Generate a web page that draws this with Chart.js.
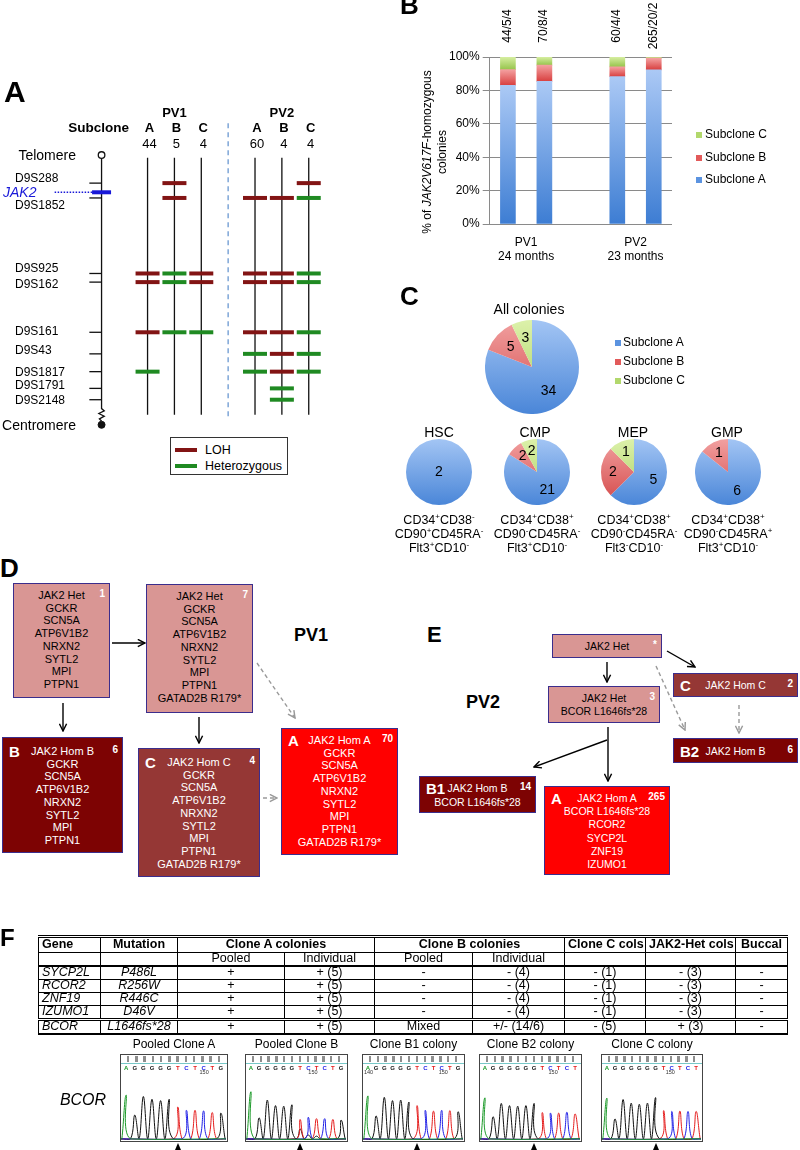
<!DOCTYPE html>
<html>
<head>
<meta charset="utf-8">
<script src="https://cdn.jsdelivr.net/npm/chart.js"></script>
<style>
body { margin: 0; background: #fff; }
#page { position: relative; width: 800px; height: 1150px; overflow: hidden; font-family: 'Liberation Sans', Arial, sans-serif; color: #000; }
.t { position: absolute; white-space: nowrap; line-height: 1.15; }
canvas { position: absolute; }
.box { position: absolute; box-sizing: border-box; border: 1px solid #3b2d8c; }
.box .ln { position: absolute; left: 0; right: 0; text-align: center; white-space: nowrap; transform: translateY(-50%); }
.box .tag { position: absolute; left: 6px; transform: translateY(-50%); font-weight: bold; font-size: 15px; color: #fff; }
.box .num { position: absolute; right: 4px; transform: translateY(-60%); font-weight: bold; font-size: 10px; color: #fff; }
sup { font-size: 8px; line-height: 0; vertical-align: 5px; }
.sq { position: absolute; width: 6px; height: 6px; }
#tblF { position: absolute; left: 38px; top: 935px; width: 749px; border-collapse: collapse; table-layout: fixed;
  font-family: 'Liberation Sans Narrow', 'Arial Narrow', 'Liberation Sans', sans-serif; font-size: 12.5px; }
#tblF td { border: 1px solid #000; padding: 0 3px; text-align: center; line-height: 11.5px; height: 12px; white-space: nowrap; overflow: hidden; }
#tblF tr.hd td { font-weight: bold; height: 14px; border-top: 3px double #000; }
#tblF tr.sub td { border-bottom: 2px solid #000; }
#tblF tr.last td { border-top: 3px double #000; border-bottom: 2px solid #000; }
#tblF td.g { text-align: left; font-style: italic; }
#tblF td.m { font-style: italic; }
#tblF tr.hd td.g { font-style: normal; }
.chrom { position: absolute; box-sizing: border-box; border: 1.5px solid #444; top: 1054px; height: 88px; background: #fff; }
.qbar { position: absolute; left: 3px; right: 3px; top: 1px; height: 6px; }
.cyan { position: absolute; left: 0; right: 0; top: 8px; height: 1px; background: #77c8c8; }
.tri { position: absolute; width: 0; height: 0; border-left: 3.5px solid transparent; border-right: 3.5px solid transparent; border-bottom: 7px solid #000; }
</style>
</head>
<body>
<div id="page"></div>
<script>
// ---------- data ----------
// A: microsatellite markers along chromosome 9p (0 = telomere, 100 = centromere)
var markers = ['D9S288', 'D9S1852', 'D9S925', 'D9S162', 'D9S161', 'D9S43', 'D9S1817', 'D9S1791', 'D9S2148'];
var markerPos = [10.4, 15.9, 43.9, 47.1, 65.7, 73.7, 80.3, 86.5, 90.7];
var jak2Pos = 13.8;
var patients = ['PV1', 'PV2'];
var subcloneNames = ['A', 'B', 'C', 'A', 'B', 'C'];
var subcloneCounts = [44, 5, 4, 60, 4, 4];
var subcloneSlot = [1, 2, 3, 5, 6, 7];
// L = LOH, H = heterozygous, '' = not shown
var statusPV1A = ['', '', 'L', 'L', 'L', '', 'H', '', ''];
var statusPV1B = ['L', 'L', 'H', 'H', 'H', '', '', '', ''];
var statusPV1C = ['', '', 'L', 'L', 'H', '', '', '', ''];
var statusPV2A = ['', 'L', 'L', 'L', 'L', 'H', 'H', '', ''];
var statusPV2B = ['', 'L', 'L', 'L', 'L', 'L', 'L', 'H', 'H'];
var statusPV2C = ['L', 'H', 'H', 'H', 'H', 'H', 'H', '', ''];

// B: colony counts per bar (A/B/C); slot 2 is the gap between patients
var barSlot = [0, 1, 3, 4];
var barLabels = ['44/5/4', '70/8/4', '60/4/4', '265/20/2'];
var groupLabels = [['PV1', '24 months'], ['PV2', '23 months']];
var countA = [44, 70, 60, 265];
var countB = [5, 8, 4, 20];
var countC = [4, 4, 4, 2];

// C: colonies per progenitor compartment
var pieTitles = ['All colonies', 'HSC', 'CMP', 'MEP', 'GMP'];
var pieA = [34, 2, 21, 5, 6];
var pieB = [5, 0, 2, 2, 1];
var pieC = [3, 0, 2, 1, 0];
var pieMarkers = [
  null,
  ['CD34<sup>+</sup>CD38<sup>-</sup>', 'CD90<sup>+</sup>CD45RA<sup>-</sup>', 'Flt3<sup>+</sup>CD10<sup>-</sup>'],
  ['CD34<sup>+</sup>CD38<sup>+</sup>', 'CD90<sup>-</sup>CD45RA<sup>-</sup>', 'Flt3<sup>+</sup>CD10<sup>-</sup>'],
  ['CD34<sup>+</sup>CD38<sup>+</sup>', 'CD90<sup>-</sup>CD45RA<sup>-</sup>', 'Flt3<sup>-</sup>CD10<sup>-</sup>'],
  ['CD34<sup>+</sup>CD38<sup>+</sup>', 'CD90<sup>-</sup>CD45RA<sup>+</sup>', 'Flt3<sup>+</sup>CD10<sup>-</sup>']
];

// F: table
var genes = ['SYCP2L', 'RCOR2', 'ZNF19', 'IZUMO1', 'BCOR'];
var mutations = ['P486L', 'R256W', 'R446C', 'D46V', 'L1646fs*28'];
var cloneAPooled = ['+', '+', '+', '+', '+'];
var cloneAIndiv = ['+ (5)', '+ (5)', '+ (5)', '+ (5)', '+ (5)'];
var cloneBPooled = ['-', '-', '-', '-', 'Mixed'];
var cloneBIndiv = ['- (4)', '- (4)', '- (4)', '- (4)', '+/- (14/6)'];
var cloneCCols = ['- (1)', '- (1)', '- (1)', '- (1)', '- (5)'];
var hetCols = ['- (3)', '- (3)', '- (3)', '- (3)', '+ (3)'];
var buccal = ['-', '-', '-', '-', '-'];

// F: BCOR traces (peak heights per called base)
var chromTitles = ['Pooled Clone A', 'Pooled Clone B', 'Clone B1 colony', 'Clone B2 colony', 'Clone C colony'];
var chromSeqs = ['AGGGGGTCTCTG', 'AGGGGGTCTCTG', 'AGGGGGTCTCTG', 'AGGGGGGTCTCT', 'AGGGGGGTCTCT'];
var peaksPooledA = [158, 86, 153, 143, 138, 143, 115, 103, 103, 101, 95, 93];
var peaksPooledB = [170, 76, 140, 120, 118, 123, 70, 78, 73, 73, 70, 68];
var minorPooledB = [0, 0, 0, 0, 0, 0, 36, 14, 10, 0, 0, 0];
var peaksB1 = [155, 83, 150, 138, 140, 133, 120, 103, 100, 103, 102, 98];
var peaksB2 = [148, 80, 128, 120, 118, 120, 128, 95, 93, 93, 96, 90];
var peaksC = [147, 72, 142, 129, 125, 129, 149, 102, 99, 100, 99, 99];

// ---------- helpers ----------
Chart.defaults.animation = false;
Chart.defaults.events = [];
Chart.defaults.font.family = "'Liberation Sans', Arial, sans-serif";
Chart.defaults.color = '#000';
Chart.defaults.plugins.legend.display = false;
Chart.defaults.plugins.tooltip.enabled = false;

var page = document.getElementById('page');

function txt(x, y, s, css, anchor, parent) {
  var d = document.createElement('div');
  d.className = 't';
  d.innerHTML = s;
  d.style.left = x + 'px';
  d.style.top = y + 'px';
  var ax = anchor === 'l' ? '0' : (anchor === 'r' ? '-100%' : '-50%');
  d.style.transform = 'translate(' + ax + ',-50%)';
  if (css) d.style.cssText += css;
  (parent || page).appendChild(d);
  return d;
}
function mkCanvas(x, y, w, h, parent) {
  var c = document.createElement('canvas');
  c.width = w; c.height = h;
  c.style.left = x + 'px'; c.style.top = y + 'px';
  c.style.width = w + 'px'; c.style.height = h + 'px';
  (parent || page).appendChild(c);
  return c;
}

var LOH = '#821414', HET = '#1f8a22';

// ---------- panel A ----------
var A_X0 = 113.8, A_DX = 29.2, A_Y0 = 149, A_DY = 2.89;   // layout of the diagram canvas
var chromX = (93 - A_X0) / A_DX;
var statusCols = [statusPV1A, statusPV1B, statusPV1C, statusPV2A, statusPV2B, statusPV2C];
var lohPts = [], hetPts = [];
statusCols.forEach(function (col, c) {
  col.forEach(function (s, m) {
    var p = { x: subcloneSlot[c], y: markerPos[m] };
    if (s === 'L') lohPts.push(p);
    if (s === 'H') hetPts.push(p);
  });
});
function seg(data, color, width, dash) {
  return { data: data, showLine: true, borderColor: color, borderWidth: width, borderDash: dash || [], pointRadius: 0, tension: 0 };
}
var aSets = [
  { data: lohPts, pointStyle: 'line', pointRadius: 12, pointBorderWidth: 4, pointBorderColor: LOH, backgroundColor: LOH },
  { data: hetPts, pointStyle: 'line', pointRadius: 12, pointBorderWidth: 4, pointBorderColor: HET, backgroundColor: HET },
  { data: [{ x: chromX, y: jak2Pos }], pointStyle: 'line', pointRadius: 9.5, pointBorderWidth: 4, pointBorderColor: '#1818d8' },
  { data: [{ x: chromX, y: 0 }], pointStyle: 'circle', pointRadius: 3.3, pointBorderWidth: 1.3, pointBorderColor: '#111', pointBackgroundColor: '#fff' },
  { data: [{ x: chromX, y: 100 }], pointStyle: 'circle', pointRadius: 3.5, pointBorderWidth: 1, pointBorderColor: '#111', pointBackgroundColor: '#111' },
  { data: markerPos.map(function (p) { return { x: chromX - 0.22, y: p }; }), pointStyle: 'line', pointRadius: 6.3, pointBorderWidth: 1.3, pointBorderColor: '#111' },
  seg([{ x: (42 - A_X0) / A_DX, y: jak2Pos }, { x: chromX - 0.33, y: jak2Pos }], '#1818d8', 1.5, [1.5, 1.5]),
  seg([{ x: chromX, y: 1.2 }, { x: chromX, y: 94 }, { x: chromX + 0.1, y: 94.8 }, { x: chromX - 0.1, y: 95.8 },
       { x: chromX + 0.1, y: 96.8 }, { x: chromX - 0.08, y: 97.8 }, { x: chromX, y: 98.6 }], '#111', 1.3),
  seg([{ x: 4, y: -11.8 }, { x: 4, y: 96.8 }], '#7ea6d8', 1.5, [5, 4])
];
subcloneSlot.forEach(function (s) {
  aSets.push(seg([{ x: s, y: 1 }, { x: s, y: 96.3 }], '#111', 1.3));
});
var chartA = new Chart(mkCanvas(0, 0, 400, 480), {
  type: 'scatter',
  data: { datasets: aSets },
  options: {
    responsive: false,
    layout: { padding: 0 },
    scales: {
      x: { type: 'linear', display: false, min: -A_X0 / A_DX, max: (400 - A_X0) / A_DX },
      y: { type: 'linear', display: false, reverse: true, min: -A_Y0 / A_DY, max: (480 - A_Y0) / A_DY }
    },
    elements: { point: { hitRadius: 0 } },
    clip: false
  }
});
(function () {
  var sx = chartA.scales.x, sy = chartA.scales.y;
  txt(4, 92, 'A', 'font-size:30px;font-weight:bold', 'l');
  txt(sx.getPixelForValue(2), 113, patients[0], 'font-size:13px;font-weight:bold');
  txt(sx.getPixelForValue(6), 113, patients[1], 'font-size:13px;font-weight:bold');
  txt(129, 128, 'Subclone', 'font-size:13.5px;font-weight:bold', 'r');
  subcloneSlot.forEach(function (s, i) {
    var x = sx.getPixelForValue(s) + 2;
    txt(x, 128, subcloneNames[i], 'font-size:13px;font-weight:bold');
    txt(x, 144, String(subcloneCounts[i]), 'font-size:13px');
  });
  txt(76, sy.getPixelForValue(0), 'Telomere', 'font-size:14px', 'r');
  txt(76, sy.getPixelForValue(100), 'Centromere', 'font-size:14px', 'r');
  txt(3, sy.getPixelForValue(jak2Pos), 'JAK2', 'font-size:14px;font-style:italic;color:#1818d8', 'l');
  var nudge = [-4, 8, -4, 3, 0, -3, 1, -2, 1];
  markers.forEach(function (m, i) {
    txt(15, sy.getPixelForValue(markerPos[i]) + nudge[i], m, 'font-size:12px', 'l');
  });
  var lg = document.createElement('div');
  lg.style.cssText = 'position:absolute;left:170px;top:437px;width:118px;height:38px;border:1px solid #333;box-sizing:border-box;background:#fff';
  page.appendChild(lg);
  [[LOH, 'LOH', 12], [HET, 'Heterozygous', 28]].forEach(function (r) {
    var l = document.createElement('div');
    l.style.cssText = 'position:absolute;left:4px;width:22px;height:4px;background:' + r[0] + ';top:' + (r[2] - 2) + 'px';
    lg.appendChild(l);
    txt(34, r[2], r[1], 'font-size:12.5px', 'l', lg);
  });
})();

// ---------- panel B ----------
var nSlots = 5;
var barTotals = countA.map(function (v, i) { return v + countB[i] + countC[i]; });
function pct(arr) { return arr.map(function (v, i) { return 100 * v / barTotals[i]; }); }
function slotData(arr) {
  var d = [];
  for (var s = 0; s < nSlots; s++) d.push(null);
  barSlot.forEach(function (s, i) { d[s] = arr[i]; });
  return d;
}
var bSeries = [
  { label: 'Subclone A', pct: pct(countA), top: '#abc9f5', bot: '#3d7dd3', flat: '#5b93e0' },
  { label: 'Subclone B', pct: pct(countB), top: '#f4a0a0', bot: '#d83f3f', flat: '#e25a5a' },
  { label: 'Subclone C', pct: pct(countC), top: '#d6eea0', bot: '#96c44c', flat: '#b2d86c' }
];
function segGrad(k) {
  return function (ctx) {
    var s = bSeries[k], ch = ctx.chart, ys = ch.scales.y;
    if (ctx.type !== 'data' || !ys || !ch.chartArea) return s.flat;
    var i = barSlot.indexOf(ctx.dataIndex), b = 0;
    if (i < 0) return s.flat;
    for (var j = 0; j < k; j++) b += bSeries[j].pct[i];
    var g = ch.ctx.createLinearGradient(0, ys.getPixelForValue(b), 0, ys.getPixelForValue(b + s.pct[i]));
    g.addColorStop(0, s.bot);
    g.addColorStop(1, s.top);
    return g;
  };
}
var chartB = new Chart(mkCanvas(400, 0, 300, 265), {
  type: 'bar',
  data: {
    labels: ['', '', '', '', ''],
    datasets: bSeries.map(function (s, k) {
      return { label: s.label, data: slotData(s.pct), backgroundColor: segGrad(k), borderWidth: 0, barThickness: 15 };
    })
  },
  options: {
    responsive: false,
    layout: { padding: { left: 46, right: 28, top: 57, bottom: 41 } },
    scales: {
      x: { stacked: true, display: false },
      y: {
        stacked: true, min: 0, max: 100,
        grid: { color: '#8a8a8a', tickLength: 7 },
        border: { color: '#8a8a8a' },
        ticks: { stepSize: 20, padding: 3, font: { size: 12 }, callback: function (v) { return v + '%'; } }
      }
    }
  }
});
(function () {
  var sx = chartB.scales.x;
  barSlot.forEach(function (s, i) {
    var d = txt(400 + sx.getPixelForValue(s), 26, barLabels[i], 'font-size:12px');
    d.style.transform = 'translate(-50%,-50%) rotate(-90deg)';
  });
  [[0, 1], [3, 4]].forEach(function (p, g) {
    var x = 400 + (sx.getPixelForValue(p[0]) + sx.getPixelForValue(p[1])) / 2;
    txt(x, 243, groupLabels[g][0], 'font-size:12px');
    txt(x, 257, groupLabels[g][1], 'font-size:12px');
  });
  var yt = txt(435, 152, '% of <i>JAK2V617F</i>-homozygous<br>colonies', 'font-size:12px;line-height:15px;text-align:center');
  yt.style.transform = 'translate(-50%,-50%) rotate(-90deg)';
})();
txt(400, 6, 'B', 'font-size:26px;font-weight:bold', 'l');
[2, 1, 0].forEach(function (k, r) {
  var y = 135 + r * 22.7;
  var q = document.createElement('div');
  q.className = 'sq';
  q.style.cssText += 'left:696px;top:' + (y - 3) + 'px;background:' + bSeries[k].flat;
  page.appendChild(q);
  txt(705, y, bSeries[k].label, 'font-size:12px', 'l');
});

// ---------- panel C ----------
var pieColors = [
  { top: '#a3c5f4', bot: '#4a86d8', flat: '#5b93e0' },
  { top: '#f1a0a0', bot: '#d44848', flat: '#e25a5a' },
  { top: '#dcf1aa', bot: '#a6cf5e', flat: '#b2d86c' }
];
var pieLayout = [
  { x: 532, y: 367, r: 47, font: 14, dist: 0.62, ty: 309, tx: 529 },
  { x: 439, y: 472, r: 33, font: 14, dist: 0.64, ty: 432, tx: 439 },
  { x: 537, y: 472, r: 33, font: 14, dist: 0.64, ty: 432, tx: 535 },
  { x: 634, y: 472, r: 33, font: 14, dist: 0.64, ty: 432, tx: 633 },
  { x: 728, y: 472, r: 33, font: 14, dist: 0.64, ty: 432, tx: 727 }
];
var pieLabelPlugin = {
  id: 'pieLabels',
  afterDatasetsDraw: function (chart, args, opts) {
    var ctx = chart.ctx, meta = chart.getDatasetMeta(0), data = chart.data.datasets[0].data;
    var n = data.filter(function (v) { return v > 0; }).length;
    ctx.save();
    ctx.font = opts.size + "px 'Liberation Sans', Arial";
    ctx.fillStyle = '#000';
    ctx.textAlign = 'center';
    ctx.textBaseline = 'middle';
    meta.data.forEach(function (arc, i) {
      if (!data[i]) return;
      var x = arc.x, y = arc.y;
      if (n > 1) {
        var mid = (arc.startAngle + arc.endAngle) / 2, rr = arc.outerRadius * opts.dist;
        x += Math.cos(mid) * rr; y += Math.sin(mid) * rr;
      }
      ctx.fillText(String(data[i]), x, y);
    });
    ctx.restore();
  }
};
pieTitles.forEach(function (title, p) {
  var L = pieLayout[p];
  new Chart(mkCanvas(L.x - L.r, L.y - L.r, 2 * L.r, 2 * L.r), {
    type: 'pie',
    data: {
      labels: ['Subclone A', 'Subclone B', 'Subclone C'],
      datasets: [{
        data: [pieA[p], pieB[p], pieC[p]],
        borderWidth: 0,
        backgroundColor: function (ctx) {
          var c = pieColors[ctx.dataIndex || 0], a = ctx.chart.chartArea;
          if (!a) return c.flat;
          var g = ctx.chart.ctx.createLinearGradient(0, a.top, 0, a.bottom);
          g.addColorStop(0, c.top);
          g.addColorStop(1, c.bot);
          return g;
        }
      }]
    },
    options: { responsive: false, layout: { padding: 0 }, plugins: { pieLabels: { size: L.font, dist: L.dist } } },
    plugins: [pieLabelPlugin]
  });
  txt(L.tx, L.ty, title, 'font-size:14px');
  if (pieMarkers[p]) {
    pieMarkers[p].forEach(function (s, k) { txt(L.x, 520 + k * 14, s, 'font-size:12.5px'); });
  }
});
txt(400, 297, 'C', 'font-size:26px;font-weight:bold', 'l');
['Subclone A', 'Subclone B', 'Subclone C'].forEach(function (s, k) {
  var y = 343 + k * 19;
  var q = document.createElement('div');
  q.className = 'sq';
  q.style.cssText += 'left:615px;top:' + (y - 3) + 'px;background:' + pieColors[k].flat;
  page.appendChild(q);
  txt(623, y, s, 'font-size:12px', 'l');
});

// ---------- panels D and E ----------
var PINK = '#d99694', MAROON = '#7d0303', BROWN = '#953735', RED = '#ff0000';
function box(o) {
  var d = document.createElement('div');
  d.className = 'box';
  d.style.cssText += 'left:' + o.x + 'px;top:' + o.y + 'px;width:' + o.w + 'px;height:' + o.h + 'px;background:' + o.bg +
    ';color:' + (o.bg === PINK ? '#000' : '#fff') + ';font-size:' + (o.fs || 11) + 'px';
  var lh = o.lh || 12.7, y0 = o.first - o.y - 1;
  o.lines.forEach(function (s, i) {
    var l = document.createElement('div');
    l.className = 'ln';
    l.style.top = (y0 + i * lh) + 'px';
    l.textContent = s;
    d.appendChild(l);
  });
  if (o.tag) {
    var t = document.createElement('div');
    t.className = 'tag'; t.style.top = y0 + 'px'; t.textContent = o.tag;
    d.appendChild(t);
  }
  if (o.num) {
    var n = document.createElement('div');
    n.className = 'num'; n.style.top = y0 + 'px'; n.textContent = o.num;
    d.appendChild(n);
  }
  page.appendChild(d);
}
var hetGenes = ['GCKR', 'SCN5A', 'ATP6V1B2', 'NRXN2', 'SYTL2', 'MPI', 'PTPN1'];
box({ x: 13, y: 583, w: 97, h: 115, bg: PINK, first: 595, lines: ['JAK2 Het'].concat(hetGenes), num: '1' });
box({ x: 146, y: 584, w: 107, h: 129, bg: PINK, first: 596, lines: ['JAK2 Het'].concat(hetGenes, ['GATAD2B R179*']), num: '7' });
box({ x: 2, y: 737, w: 121, h: 116, bg: MAROON, first: 751, lines: ['JAK2 Hom B'].concat(hetGenes), tag: 'B', num: '6' });
box({ x: 138, y: 748, w: 122, h: 129, bg: BROWN, first: 762, lines: ['JAK2 Hom C'].concat(hetGenes, ['GATAD2B R179*']), tag: 'C', num: '4' });
box({ x: 281, y: 728, w: 117, h: 127, bg: RED, first: 740, lines: ['JAK2 Hom A'].concat(hetGenes, ['GATAD2B R179*']), tag: 'A', num: '70' });

box({ x: 552, y: 634, w: 110, h: 24, bg: PINK, first: 646, fs: 10.5, lines: ['JAK2 Het'], num: '*' });
box({ x: 548, y: 686, w: 112, h: 37, bg: PINK, first: 698, lh: 13, fs: 10.5, lines: ['JAK2 Het', 'BCOR L1646fs*28'], num: '3' });
box({ x: 673, y: 673, w: 125, h: 24, bg: BROWN, first: 685, fs: 10.5, lines: ['JAK2 Hom C'], tag: 'C', num: '2' });
box({ x: 673, y: 738, w: 125, h: 25, bg: MAROON, first: 751, fs: 10.5, lines: ['JAK2 Hom B'], tag: 'B2', num: '6' });
box({ x: 419, y: 776, w: 117, h: 37, bg: MAROON, first: 788, lh: 14, fs: 10.5, lines: ['JAK2 Hom B', 'BCOR L1646fs*28'], tag: 'B1', num: '14' });
box({ x: 544, y: 786, w: 126, h: 89, bg: RED, first: 798, lh: 13.2, fs: 10.5, lines: ['JAK2 Hom A', 'BCOR L1646fs*28', 'RCOR2', 'SYCP2L', 'ZNF19', 'IZUMO1'], tag: 'A', num: '265' });

txt(0, 569, 'D', 'font-size:26px;font-weight:bold', 'l');
txt(311, 635, 'PV1', 'font-size:18px;font-weight:bold');
txt(427, 635, 'E', 'font-size:22px;font-weight:bold', 'l');
txt(483, 702, 'PV2', 'font-size:18px;font-weight:bold');

var arrows = [
  [112, 643, 145, 643, 0], [63, 703, 63, 731, 0], [199, 717, 199, 743, 0],
  [257, 663, 295, 718, 1], [263, 798, 277, 798, 1],
  [607, 662, 607, 682, 0], [667, 651, 695, 667, 0], [656, 666, 685, 730, 1], [739, 705, 739, 733, 1],
  [608, 727, 608, 781, 0], [607, 740, 534, 767, 0]
];
var svg = '<svg width="800" height="1150" style="position:absolute;left:0;top:0" xmlns="http://www.w3.org/2000/svg"><defs>' +
  '<marker id="ak" viewBox="0 0 10 10" refX="9" refY="5" markerUnits="userSpaceOnUse" markerWidth="9" markerHeight="9" orient="auto"><path d="M1,1 L9,5 L1,9" fill="none" stroke="#000" stroke-width="1.6"/></marker>' +
  '<marker id="ag" viewBox="0 0 10 10" refX="9" refY="5" markerUnits="userSpaceOnUse" markerWidth="9" markerHeight="9" orient="auto"><path d="M1,1 L9,5 L1,9" fill="none" stroke="#999" stroke-width="1.6"/></marker></defs>';
arrows.forEach(function (a) {
  svg += '<line x1="' + a[0] + '" y1="' + a[1] + '" x2="' + a[2] + '" y2="' + a[3] + '" stroke="' + (a[4] ? '#9a9a9a' : '#000') +
    '" stroke-width="1.4"' + (a[4] ? ' stroke-dasharray="4,3"' : '') + ' marker-end="url(#' + (a[4] ? 'ag' : 'ak') + ')"/>';
});
svg += '</svg>';
var sv = document.createElement('div');
sv.innerHTML = svg;
page.appendChild(sv.firstChild);

// ---------- panel F: table ----------
txt(0, 938, 'F', 'font-size:24px;font-weight:bold', 'l');
(function () {
  var colW = [62, 77, 107, 90, 98, 92, 81, 90, 52];
  var h = '<colgroup>' + colW.map(function (w) { return '<col style="width:' + w + 'px">'; }).join('') + '</colgroup>';
  h += '<tr class="hd"><td class="g">Gene</td><td>Mutation</td><td colspan="2">Clone A colonies</td><td colspan="2">Clone B colonies</td><td>Clone C cols</td><td>JAK2-Het cols</td><td>Buccal</td></tr>';
  h += '<tr class="sub"><td></td><td></td><td>Pooled</td><td>Individual</td><td>Pooled</td><td>Individual</td><td></td><td></td><td></td></tr>';
  genes.forEach(function (g, i) {
    h += '<tr' + (i === genes.length - 1 ? ' class="last"' : '') + '><td class="g">' + g + '</td><td class="m">' + mutations[i] + '</td><td>' +
      cloneAPooled[i] + '</td><td>' + cloneAIndiv[i] + '</td><td>' + cloneBPooled[i] + '</td><td>' + cloneBIndiv[i] + '</td><td>' +
      cloneCCols[i] + '</td><td>' + hetCols[i] + '</td><td>' + buccal[i] + '</td></tr>';
  });
  var t = document.createElement('table');
  t.id = 'tblF';
  t.innerHTML = h;
  page.appendChild(t);
})();

// ---------- panel F: BCOR traces ----------
var chromPeaks = [peaksPooledA, peaksPooledB, peaksB1, peaksB2, peaksC];
var chromMinor = [null, minorPooledB, null, null, null];
var chromBoxX = [120, 245, 362, 479, 601];
var chromBoxW = [108, 103, 103, 103, 102];
var chromTick150 = [0.77, 0.65, 0.78, 0.71, 0.67];
var baseColor = { A: '#1d9a2a', C: '#2020e6', G: '#111111', T: '#e41c1c' };
function trace(seq, h, base) {
  var n = seq.length, pts = [{ x: -0.6, y: 0 }];
  for (var i = 0; i < n; i++) {
    if (seq[i] !== base || !h[i]) continue;
    if (pts[pts.length - 1].x !== i - 0.5) pts.push({ x: i - 0.5, y: 0 });
    pts.push({ x: i, y: h[i] }, { x: i + 0.5, y: 0 });
  }
  if (pts[pts.length - 1].x < n - 0.4) pts.push({ x: n - 0.4, y: 0 });
  return pts;
}
txt(83, 1100, 'BCOR', 'font-size:16px;font-style:italic');
chromTitles.forEach(function (title, k) {
  var seq = chromSeqs[k], n = seq.length, bx = chromBoxX[k], bw = chromBoxW[k];
  txt(bx + bw / 2, 1045, title, 'font-size:12px');
  var d = document.createElement('div');
  d.className = 'chrom';
  d.style.left = bx + 'px';
  d.style.width = bw + 'px';
  var step = (bw - 9) / n;
  d.innerHTML = '<div class="qbar" style="background:repeating-linear-gradient(90deg,transparent 0,transparent ' + (step / 2 - 1.2).toFixed(1) +
    'px,#8e8e8e ' + (step / 2 - 1.2).toFixed(1) + 'px,#8e8e8e ' + (step / 2 + 1.2).toFixed(1) + 'px,transparent ' + (step / 2 + 1.2).toFixed(1) + 'px,transparent ' + step.toFixed(2) + 'px)"></div><div class="cyan"></div>';
  page.appendChild(d);
  txt(bw * chromTick150[k], 17, '150', 'font-size:5.5px;color:#333', 'c', d);
  if (k === 2) txt(1, 17, '140', 'font-size:5.5px;color:#333', 'l', d);
  var sets = ['A', 'C', 'G', 'T'].map(function (b) {
    return { data: trace(seq, chromPeaks[k], b), borderColor: baseColor[b], borderWidth: 1, pointRadius: 0, tension: 0.4 };
  });
  if (chromMinor[k]) {
    sets.push({ data: trace('GGGGGGGGGGGG', chromMinor[k], 'G'), borderColor: '#111', borderWidth: 1, pointRadius: 0, tension: 0.4 });
  }
  var ch = new Chart(mkCanvas(0, 9, bw - 3, 76, d), {
    type: 'line',
    data: { datasets: sets },
    options: {
      responsive: false,
      layout: { padding: 0 },
      scales: {
        x: {
          type: 'linear', position: 'top', min: -0.6, max: n - 0.4,
          grid: { display: false }, border: { display: false },
          afterBuildTicks: function (axis) { axis.ticks = seq.split('').map(function (c, i) { return { value: i }; }); },
          ticks: { autoSkip: false, maxRotation: 0, padding: 1, font: { size: 6, weight: 'bold' },
            color: function (c) { return baseColor[seq[c.index]] || '#111'; },
            callback: function (v, i) { return seq[i]; } }
        },
        y: { display: false, min: -4, max: 208 }
      }
    }
  });
  var tri = document.createElement('div');
  tri.className = 'tri';
  tri.style.left = (bx + 1.5 + ch.scales.x.getPixelForValue(6) - 3.5) + 'px';
  tri.style.top = '1143px';
  page.appendChild(tri);
});
</script>
</body>
</html>
